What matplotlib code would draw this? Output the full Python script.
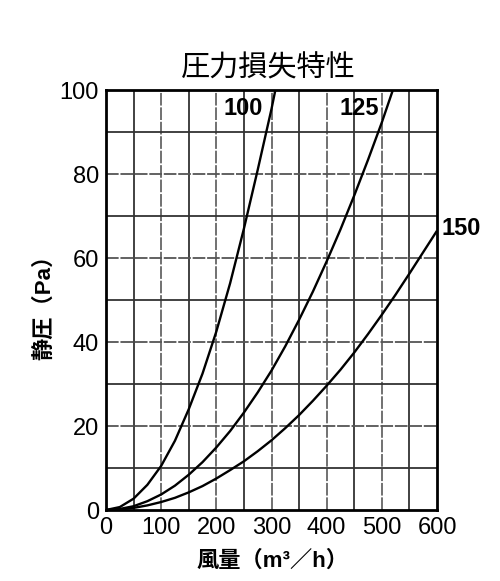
import matplotlib
matplotlib.use('Agg')
import matplotlib.pyplot as plt

# ダクト径ごとの圧力損失
flow_100 = [0, 25, 50, 75, 100, 125, 150, 175, 200, 225, 250, 275, 300, 307]
pa_100 = [0, 0.7, 2.7, 6.0, 10.5, 16.5, 24.0, 32.5, 42.5, 54.0, 67.0, 81.0, 95.5, 100]

flow_125 = [0, 25, 50, 75, 100, 125, 150, 175, 200, 225, 250, 275, 300, 325, 350,
            375, 400, 425, 450, 475, 500, 520]
pa_125 = [0, 0.25, 0.9, 2.1, 3.7, 5.8, 8.4, 11.4, 14.9, 18.8, 23.2, 28.0, 33.2, 39.0,
          45.3, 52.0, 59.2, 66.8, 74.9, 83.4, 92.3, 100]

flow_150 = [0, 25, 50, 75, 100, 125, 150, 175, 200, 225, 250, 275, 300, 325, 350,
            375, 400, 425, 450, 475, 500, 525, 550, 575, 600]
pa_150 = [0, 0.12, 0.5, 1.1, 1.9, 2.9, 4.2, 5.7, 7.5, 9.5, 11.6, 14.0, 16.6, 19.5,
          22.6, 26.0, 29.6, 33.4, 37.5, 41.9, 46.5, 51.3, 56.3, 61.4, 66.5]

curve_labels = ['100', '125', '150']
x_ticks = [0, 100, 200, 300, 400, 500, 600]
y_ticks = [0, 20, 40, 60, 80, 100]

plt.rcParams['font.family'] = ['Liberation Sans', 'Noto Sans CJK JP']

fig = plt.figure(figsize=(5, 5.81), dpi=100)
ax = fig.add_axes([0.212, 0.1222, 0.662, 0.7228])

# グリッド
for gx in range(50, 600, 50):
    if gx % 100 == 50:
        ax.axvline(gx, color='#333333', lw=1.3, zorder=1)
    else:
        ax.axvline(gx, color='#666666', lw=1.3, ls=(0, (7, 1)), zorder=1)
for gy in range(10, 100, 10):
    if gy % 20 == 10:
        ax.axhline(gy, color='#333333', lw=1.3, zorder=1)
    else:
        ax.axhline(gy, color='#555555', lw=1.3, ls=(0, (7, 1)), zorder=1)

for fx, py in [(flow_100, pa_100), (flow_125, pa_125), (flow_150, pa_150)]:
    ax.plot(fx, py, color='black', lw=1.7, zorder=3, solid_capstyle='butt')

ax.set_xlim(0, 600)
ax.set_ylim(0, 100)
ax.set_xticks(x_ticks)
ax.set_yticks(y_ticks)
ax.tick_params(length=0, labelsize=17, pad=5)
for s in ax.spines.values():
    s.set_linewidth(2)
    s.set_zorder(4)

ax.text(248, 95.5, curve_labels[0], fontsize=17, fontweight='bold', ha='center', va='center')
ax.text(459, 95.5, curve_labels[1], fontsize=17, fontweight='bold', ha='center', va='center')
ax.text(643, 67, curve_labels[2], fontsize=17, fontweight='bold', ha='center', va='center',
        clip_on=False)

fig.text(268 / 500, 1 - 68.5 / 581, '圧力損失特性', fontsize=21, ha='center', va='center')
fig.text(44 / 500, 1 - 302 / 581, '静圧（Pa）', fontsize=16, rotation=90, ha='center',
         va='center', fontweight='bold')
fig.text(272 / 500, 1 - 561 / 581, '風量（m³／h）', fontsize=16, ha='center', va='center',
         fontweight='bold')

fig.savefig('out.png', dpi=100)
